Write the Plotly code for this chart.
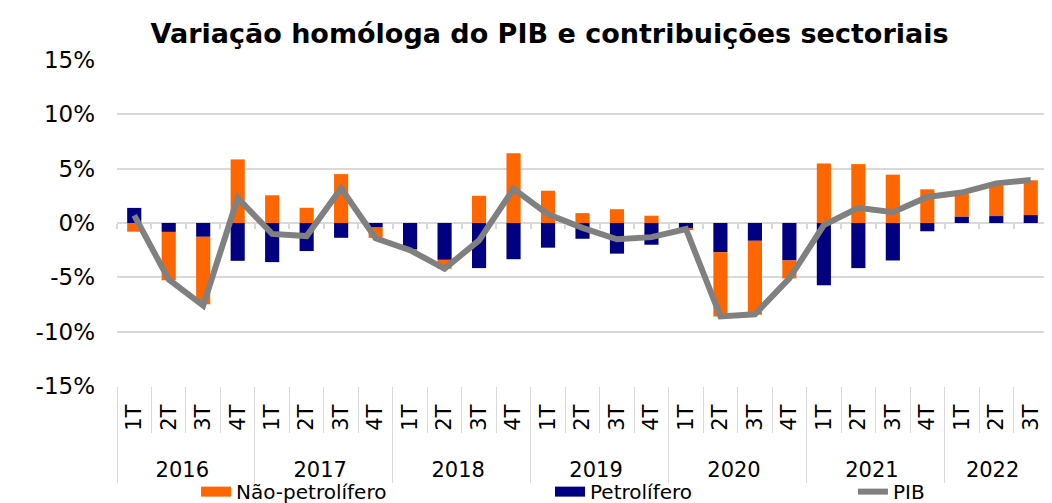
import plotly.graph_objects as go

years = ["2016"]*4 + ["2017"]*4 + ["2018"]*4 + ["2019"]*4 + ["2020"]*4 + ["2021"]*4 + ["2022"]*3
quarters = ["1T", "2T", "3T", "4T"]*6 + ["1T", "2T", "3T"]

nao_petrolifero = [-0.8, -4.45, -6.2, 5.85, 2.55, 1.4, 4.5, -0.95,
                   -0.15, -0.82, 2.5, 6.42, 2.97, 0.91, 1.27, 0.67,
                   -0.1, -5.9, -6.8, -1.65, 5.48, 5.42, 4.45, 3.1,
                   2.1, 2.95, 3.2]
petrolifero = [1.39, -0.82, -1.27, -3.48, -3.6, -2.58, -1.36, -0.42,
               -2.4, -3.39, -4.15, -3.33, -2.27, -1.45, -2.82, -2.0,
               -0.5, -2.7, -1.64, -3.45, -5.73, -4.15, -3.45, -0.76,
               0.6, 0.64, 0.73]
pib = [0.7, -5.2, -7.6, 2.3, -1.0, -1.2, 3.2, -1.4,
       -2.5, -4.2, -1.6, 3.15, 0.8, -0.45, -1.5, -1.3,
       -0.55, -8.6, -8.4, -5.1, -0.2, 1.4, 1.0, 2.4,
       2.8, 3.65, 3.95]

y_ticks = [-15, -10, -5, 0, 5, 10, 15]
y_labels = ["-15%", "-10%", "-5%", "0%", "5%", "10%", "15%"]

ORANGE = "#FF6600"
NAVY = "#000080"
GREY = "#808080"
LIGHT = "#d9d9d9"
FONT = "DejaVu Sans"
NB = "\u00a0"

# pad the rotated quarter labels so they sit like the original
quarter_labels = [NB + q + NB*2 for q in quarters]
x = [years, quarter_labels]

fig = go.Figure()
fig.add_trace(go.Bar(x=x, y=petrolifero, name="Petrolífero", marker_color=NAVY,
                     marker_line_width=0, showlegend=False))
fig.add_trace(go.Bar(x=x, y=nao_petrolifero, name="Não-petrolífero", marker_color=ORANGE,
                     marker_line_width=0, showlegend=False))
fig.add_trace(go.Scatter(x=x, y=pib, name="PIB", mode="lines",
                         line=dict(color=GREY, width=6), showlegend=False))

# helper axis that carries the small tick marks on the 0% line
fig.add_trace(go.Scatter(x=[None], y=[None], xaxis="x2", showlegend=False, hoverinfo="skip"))

# legend entries (one legend each so they can be placed like the original)
fig.add_trace(go.Scatter(x=[None], y=[None], mode="lines", name="Não-petrolífero",
                         line=dict(color=ORANGE, width=11), legend="legend"))
fig.add_trace(go.Scatter(x=[None], y=[None], mode="lines", name="Petrolífero",
                         line=dict(color=NAVY, width=11), legend="legend2"))
fig.add_trace(go.Scatter(x=[None], y=[None], mode="lines", name="PIB",
                         line=dict(color=GREY, width=6), legend="legend3"))

leg_common = dict(orientation="h", xanchor="left", y=-0.324, yanchor="middle",
                  font=dict(family=FONT, size=20), bgcolor="rgba(0,0,0,0)")

n = len(quarters)
boundaries = [i - 0.5 for i in range(n + 1)]

fig.update_layout(
    width=1044, height=495,
    barmode="relative", bargap=0.59,
    paper_bgcolor="white", plot_bgcolor="white",
    margin=dict(l=109, r=4, t=52, b=117, autoexpand=False),
    font=dict(family=FONT, size=20, color="#000000"),
    title=dict(text="<b>Variação homóloga do PIB e contribuições sectoriais</b>",
               x=0.5187, xanchor="center", y=0.949, yanchor="middle",
               font=dict(family=FONT, size=27, color="#000000")),
    legend=dict(x=0.0849, **leg_common),
    legend2=dict(x=0.4651, **leg_common),
    legend3=dict(x=0.7905, **leg_common),
    xaxis=dict(type="multicategory", tickangle=-90, tickson="boundaries",
               ticks="outside", ticklen=46, tickcolor=LIGHT, tickwidth=1,
               showdividers=True, dividercolor=LIGHT, dividerwidth=1,
               showline=False, showgrid=False, automargin=False,
               tickfont=dict(family=FONT, size=21)),
    xaxis2=dict(overlaying="x", anchor="free", position=0.5, side="bottom",
                range=[-0.5, n - 0.5], tickvals=boundaries, showticklabels=False,
                ticks="outside", ticklen=5, tickcolor=LIGHT, tickwidth=1.5,
                showgrid=False, zeroline=False, showline=False, automargin=False),
    yaxis=dict(range=[-15, 15], tickvals=y_ticks, ticktext=y_labels,
               showgrid=True, gridcolor=LIGHT, gridwidth=1.5,
               zeroline=True, zerolinecolor=LIGHT, zerolinewidth=1.5,
               automargin=False, ticklabelstandoff=21,
               tickfont=dict(family=FONT, size=23), ticks="", ticklen=0),
)

fig.write_html("out.html")
